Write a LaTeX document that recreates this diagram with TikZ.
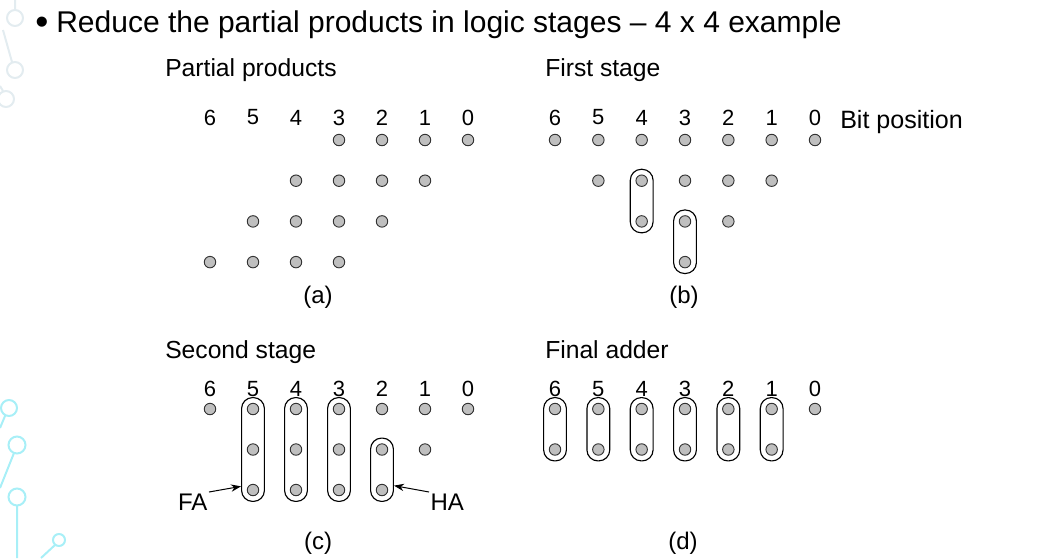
\documentclass[tikz,border=0pt]{standalone}
\usepackage{fontspec}
\setmainfont{Liberation Sans}
\usetikzlibrary{fit,arrows.meta}
\definecolor{decoA}{HTML}{A8EFF7}
\definecolor{decoB}{HTML}{E3ECF0}
\tikzset{
  bit/.style={circle,draw=black!80,fill=black!25,line width=0.7pt,minimum size=8.6pt,inner sep=0pt},
  group/.style={draw,line width=0.85pt,rounded corners=8.2pt,inner sep=3.9pt},
  hdr/.style={anchor=base west,inner sep=0pt,font=\fontsize{18.5}{22}\selectfont},
  num/.style={inner sep=0pt,font=\fontsize{16.5}{20}\selectfont},
  lbl/.style={inner sep=1pt,font=\fontsize{18}{21}\selectfont}
}

\begin{document}
\begin{tikzpicture}[x=0.75pt,y=-0.75pt]
  \useasboundingbox (0,0) rectangle (1051,558);
  \draw[decoB,line width=1.5pt] (15,0)--(15,10) (15,18) circle (8)
    (3,30)--(12,62) (15,70) circle (8) (0,86)--(3,91) (6,99) circle (8);
  \draw[decoA,line width=1.5pt] (9,408) circle (8) (5,416)--(0,428)
    (17,445) circle (8.5) (14,453)--(0,488) (17,497) circle (8.5) (17,506)--(17,558)
    (59,540) circle (6) (55,545)--(41,558);

  \node[anchor=base west,inner sep=0pt,font=\fontsize{22.5}{26}\selectfont] (title) at (35,32.5)
    {\raisebox{-1.5pt}{\fontsize{28}{28}\selectfont\textbullet}\hspace{6pt}Reduce the partial products in logic stages – 4 x 4 example};

  \node[hdr] (ha) at (165,76) {Partial products};
  \node[hdr] (hb) at (545,76) {First stage};
  \node[hdr] (hc) at (165,358) {Second stage};
  \node[hdr] (hd) at (545,358) {Final adder};
  \node[anchor=west,inner sep=0pt,font=\fontsize{18.8}{22}\selectfont] (bitpos) at (840,122) {Bit position};

  \foreach \c in {0,...,6} {
    \node[num] (na\c) at ({468-43*\c},117.5) {\c};
    \node[num] (nb\c) at ({815-43.33*\c},117.5) {\c};
    \node[num] (nc\c) at ({468-43*\c},389) {\c};
    \node[num] (nd\c) at ({815-43.33*\c},389) {\c};
  }

  \foreach \r [evaluate=\r as \e using int(\r+3)] in {0,...,3}
    \foreach \c in {\r,...,\e}
      \node[bit] (a\r\c) at ({468-43*\c},{140+40.7*\r}) {};

  \foreach \r/\cols in {0/{0,1,2,3,4,5,6},1/{1,2,3,4,5},2/{2,3,4},3/{3}}
    \foreach \c in \cols
      \node[bit] (b\r\c) at ({815-43.33*\c},{140+40.7*\r}) {};
  \node[group,fit=(b14)(b24)] (gb4) {};
  \node[group,fit=(b23)(b33)] (gb3) {};

  \foreach \r/\cols in {0/{0,1,2,3,4,5,6},1/{1,2,3,4,5},2/{2,3,4,5}}
    \foreach \c in \cols
      \node[bit] (c\r\c) at ({468-43*\c},{409+40.5*\r}) {};
  \foreach \c in {3,4,5}
    \node[group,fit=(c0\c)(c2\c)] (gc\c) {};
  \node[group,fit=(c12)(c22)] (gc2) {};

  \foreach \r/\cols in {0/{0,1,2,3,4,5,6},1/{1,2,3,4,5,6}}
    \foreach \c in \cols
      \node[bit] (d\r\c) at ({815-43.33*\c},{409+40.5*\r}) {};
  \foreach \c in {1,...,6}
    \node[group,fit=(d0\c)(d1\c)] (gd\c) {};

  \node[lbl,anchor=north east] (fa) at (209,492) {FA};
  \node[lbl,anchor=north west] (hadd) at (429,492) {HA};
  \draw[-{Stealth[length=7.5pt,width=5.5pt]},line width=0.75pt] (fa.north east) -- (gc5.252);
  \draw[-{Stealth[length=7.5pt,width=5.5pt]},line width=0.75pt] (hadd.north west) -- (gc2.307);

  \node[lbl] (capa) at (318,297) {(a)};
  \node[lbl] (capb) at (684,297) {(b)};
  \node[lbl] (capc) at (318,543) {(c)};
  \node[lbl] (capd) at (683,543) {(d)};
\end{tikzpicture}
\end{document}
